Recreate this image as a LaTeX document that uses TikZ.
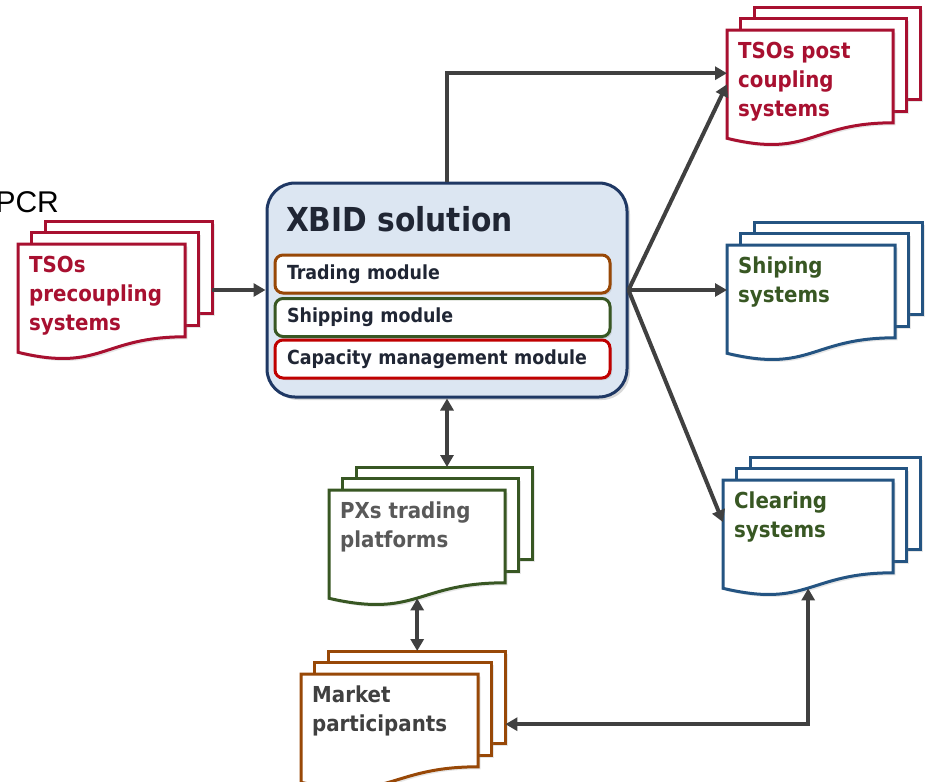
\documentclass[tikz,border=0pt]{standalone}
\usepackage{fontspec}
\setmainfont{DejaVu Sans Condensed}
\newfontfamily\pcrfont{Liberation Sans}
\usetikzlibrary{shadows,arrows.meta,calc,positioning}

\definecolor{tsored}{RGB}{168,16,48}
\definecolor{docblue}{RGB}{36,84,130}
\definecolor{docgreen}{RGB}{56,87,35}
\definecolor{pxgray}{RGB}{89,89,89}
\definecolor{mktbrown}{RGB}{152,72,7}
\definecolor{mkttext}{RGB}{64,64,64}
\definecolor{xbidfill}{RGB}{220,230,242}
\definecolor{xbidnavy}{RGB}{31,56,100}
\definecolor{modred}{RGB}{192,0,0}
\definecolor{textdark}{RGB}{32,38,52}
\definecolor{arrowgray}{RGB}{64,64,64}

\newcommand\docbox[2]{\parbox[c][108pt][t]{#1pt}{\leftskip=11pt\rule{0pt}{28pt}#2}}

\tikzset{
  conn/.style={draw=arrowgray, line width=4pt, -{Triangle[length=12pt,width=13pt]}},
  conn2/.style={draw=arrowgray, line width=4pt, {Triangle[length=12pt,width=13pt]}-{Triangle[length=12pt,width=13pt]}},
  page/.style={draw=#1, fill=white, line width=3pt,
    drop shadow={opacity=0.2, shadow xshift=2.5pt, shadow yshift=-2.5pt}},
  doc/.style={text=#1, inner sep=0pt, anchor=north west,
    font=\bfseries\fontsize{22}{29}\selectfont},
  mainbox/.style={draw=xbidnavy, fill=xbidfill, line width=3pt, rounded corners=28pt,
    minimum width=360pt, minimum height=214pt,
    drop shadow={opacity=0.3, shadow xshift=3pt, shadow yshift=-3pt}},
  module/.style={draw=#1, fill=white, line width=3pt, rounded corners=8pt,
    minimum width=335pt, minimum height=38pt, text width=311pt, inner xsep=12pt,
    align=left, text=textdark, font=\bfseries\fontsize{19.4}{22}\selectfont,
    drop shadow={opacity=0.25, shadow xshift=2pt, shadow yshift=-2pt}},
}

\begin{document}
\begin{tikzpicture}[x=1pt,y=-1pt]
\useasboundingbox (0,0) rectangle (930,782);

\node[font=\pcrfont\fontsize{30}{36}\selectfont, anchor=base west] (pcr) at (-8,212) {PCR};

% document stacks: two back pages, front page with wavy bottom, then the text
\foreach \name/\x/\y/\w/\bord/\col/\txt in {
	pre/18/244/167/tsored/tsored/{TSOs\\precoupling\\systems},
	post/727/30/166/tsored/tsored/{TSOs post\\coupling\\systems},
	ship/727/245/168/docblue/docgreen/{Shiping\\systems},
	clear/723/480/170/docblue/docgreen/{Clearing\\systems},
	pxs/329/490/176/docgreen/pxgray/{PXs trading\\platforms},
	mkt/301/674/177/mktbrown/mkttext/{Market\\participants}
	} {
	\begin{scope}[shift={(\x,\y)}]
		\foreach \d in {2,1}
			\draw[page=\bord] (13.5*\d, -11.5*\d) rectangle +(\w, 92.8);
		\draw[page=\bord] (0,0) -- (\w,0) -- (\w,92.8)
			.. controls (0.5*\w,92.8) and (0.5*\w,128.5) .. (0,108.3) -- cycle;
	\end{scope}
	\node[doc=\col] (\name) at (\x,\y) {\docbox{\w}{\txt}};
}

% XBID solution
\node[mainbox] (xbid) at (447,290) {};
\node[anchor=base west, text=textdark, font=\bfseries\fontsize{33}{38}\selectfont]
	(xbidtitle) at ($(xbid.north west)+(17pt,-50pt)$) {XBID solution};
\foreach \name/\y/\col/\txt in {
	trade/274/mktbrown/Trading module,
	shipmod/317.5/docgreen/Shipping module,
	capmod/359/modred/Capacity management module
	} {
	\node[module=\col] (\name) at (442.5,\y) {\txt};
}

% connectors
\coordinate (pre back) at ($(pre.east)+(27pt,0pt)$);
\coordinate (pxs back) at ($(pxs.north)+(27pt,23pt)$);
\coordinate (mkt back) at ($(mkt.north)+(27pt,23pt)$);
\coordinate (mkt side) at ($(mkt.east)+(27pt,4pt)$);
\draw[conn] (pre back |- xbid.west) -- (xbid.west);
\draw[conn] (xbid.north) |- ([yshift=11pt]post.west);
\draw[conn] (xbid.east) -- (post.west);
\draw[conn] (xbid.east) -- (xbid.east -| ship.west);
\draw[conn] (xbid.east) -- ([yshift=12pt]clear.west);
\draw[conn2] (xbid.south) -- (xbid.south |- pxs back);
\draw[conn2] (pxs.south) -- (pxs.south |- mkt back);
\draw[conn2] (mkt side) -| (clear.south);
\end{tikzpicture}
\end{document}
